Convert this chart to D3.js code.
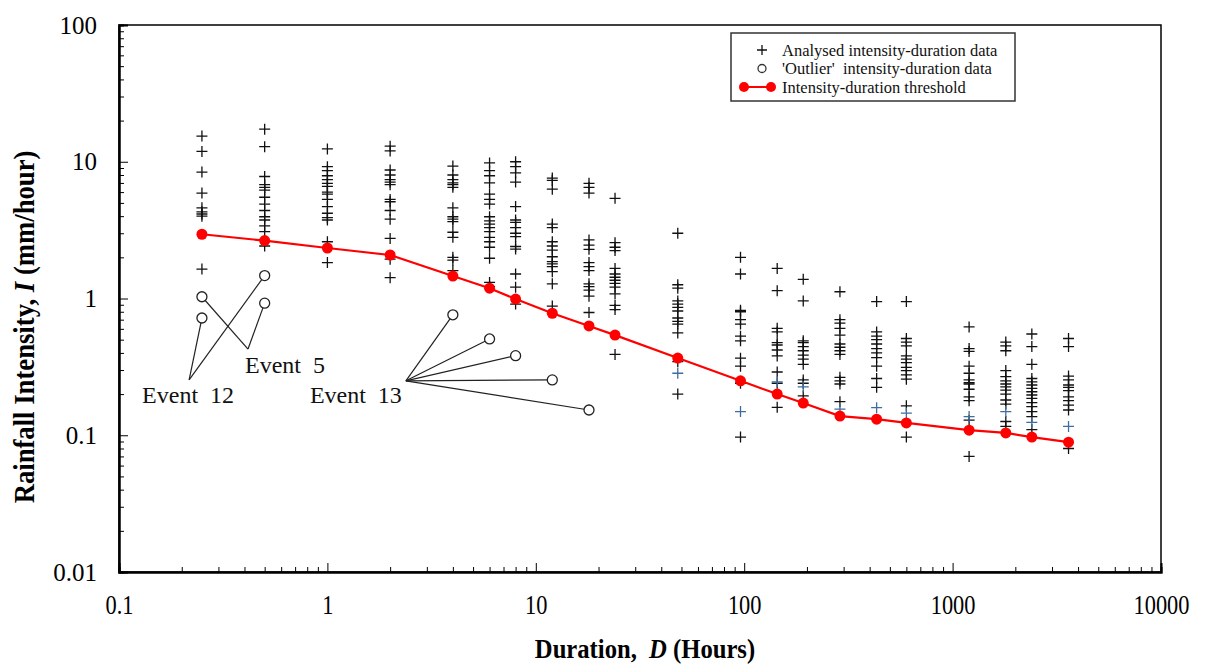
<!DOCTYPE html>
<html>
<head>
<meta charset="utf-8">
<script src="https://cdn.jsdelivr.net/npm/d3@7.9.0/dist/d3.min.js"></script>
<style>
  body { margin: 0; background: #fff; }
  svg { display: block; font-family: "Liberation Serif", "Times New Roman", serif; }
</style>
</head>
<body>
<svg id="chart" width="1206" height="666"></svg>
<script>
// durations (hours) where events were analysed
const durations = [0.25, 0.5, 1, 2, 4, 6, 8, 12, 18, 24, 48, 96, 144, 192, 288, 432, 600, 1200, 1800, 2400, 3600];

// analysed intensity-duration data (mm/hour), one list per duration
const analysed = [
  [15.4, 11.9, 8.4, 5.9, 4.6, 4.3, 4.15, 4.0, 1.64],
  [17.3, 12.9, 7.8, 6.8, 6.5, 6.2, 5.5, 4.9, 4.4, 3.96, 3.75, 3.4, 3.08, 2.42],
  [12.4, 9.2, 8.6, 7.9, 7.4, 6.95, 6.6, 6.0, 5.8, 5.3, 4.7, 4.2, 3.9, 3.75, 2.6, 1.83],
  [13.0, 12.0, 8.7, 8.0, 7.4, 7.1, 6.8, 5.3, 5.1, 4.4, 3.8, 2.75, 1.94, 1.42],
  [9.3, 8.0, 7.4, 7.0, 6.8, 6.5, 4.6, 3.96, 3.8, 3.65, 3.05, 2.8, 2.0, 1.91, 1.6],
  [9.8, 8.6, 7.9, 7.0, 5.8, 5.3, 4.9, 3.96, 3.7, 3.5, 3.3, 3.08, 2.8, 2.6, 2.37, 1.97, 1.31, 1.22],
  [10.0, 9.2, 8.3, 7.1, 4.7, 3.75, 3.6, 3.3, 3.0, 2.83, 2.4, 2.3, 1.51, 1.21, 0.91],
  [7.6, 7.3, 6.3, 3.5, 3.3, 2.6, 2.42, 2.26, 2.02, 1.86, 1.79, 1.71, 1.57, 1.28, 0.88],
  [6.95, 6.5, 5.9, 2.68, 2.46, 2.29, 1.83, 1.71, 1.6, 1.28, 1.22, 1.15, 1.04, 0.79],
  [5.4, 2.56, 2.37, 2.24, 1.66, 1.51, 1.43, 1.36, 1.29, 1.21, 1.08, 0.89, 0.83, 0.39],
  [3.0, 1.26, 1.19, 0.96, 0.91, 0.86, 0.81, 0.72, 0.68, 0.65, 0.56, 0.345, 0.2],
  [2.0, 1.51, 0.82, 0.8, 0.7, 0.65, 0.53, 0.49, 0.366, 0.32, 0.24, 0.097],
  [1.66, 1.14, 0.605, 0.57, 0.475, 0.457, 0.42, 0.38, 0.29, 0.24, 0.16],
  [1.38, 0.96, 0.49, 0.475, 0.445, 0.415, 0.386, 0.36, 0.33, 0.254, 0.24, 0.194],
  [1.12, 0.7, 0.66, 0.605, 0.54, 0.465, 0.44, 0.415, 0.39, 0.265, 0.25, 0.237, 0.176],
  [0.95, 0.57, 0.53, 0.5, 0.465, 0.43, 0.4, 0.37, 0.32, 0.26, 0.224],
  [0.95, 0.51, 0.48, 0.45, 0.38, 0.36, 0.34, 0.314, 0.297, 0.276, 0.257, 0.164, 0.097],
  [0.62, 0.43, 0.41, 0.32, 0.284, 0.254, 0.242, 0.237, 0.217, 0.191, 0.179, 0.129, 0.07],
  [0.48, 0.45, 0.415, 0.297, 0.268, 0.25, 0.237, 0.226, 0.214, 0.2, 0.181, 0.169, 0.126, 0.116],
  [0.55, 0.445, 0.33, 0.26, 0.246, 0.233, 0.22, 0.208, 0.197, 0.186, 0.173, 0.162, 0.149, 0.137, 0.11],
  [0.51, 0.445, 0.271, 0.254, 0.233, 0.224, 0.212, 0.191, 0.179, 0.166, 0.153, 0.08]
];

// the few crosses drawn in blue (duration, intensity)
const blueDurations = [48, 96, 144, 192, 288, 432, 600, 1200, 1800, 2400, 3600];
const blueIntensity = [0.284, 0.149, 0.246, 0.226, 0.155, 0.159, 0.145, 0.137, 0.149, 0.124, 0.116];

// intensity-duration threshold
const threshold = [2.95, 2.65, 2.34, 2.08, 1.46, 1.19, 0.99, 0.78, 0.63, 0.54, 0.367, 0.25, 0.2, 0.172, 0.138, 0.131, 0.123, 0.109, 0.104, 0.097, 0.089];

// 'outlier' points
const outlierDurations = [0.25, 0.25, 0.5, 0.5, 4, 6, 8, 12, 18];
const outlierIntensity = [1.03, 0.72, 1.47, 0.925, 0.76, 0.506, 0.382, 0.254, 0.153];

// event call-outs: label, pointer vertex (data coords), outlier indices
const eventLabels = ['Event  12', 'Event  5', 'Event  13'];
const eventVertex = [[0.217, 0.254], [0.416, 0.427], [2.38, 0.25]];
const eventTargets = [[1, 2], [0, 3], [4, 5, 6, 7, 8]];

const xTicks = [0.1, 1, 10, 100, 1000, 10000];
const yTicks = [0.01, 0.1, 1, 10, 100];

const svg = d3.select('#chart');
const plotL = 119, plotR = 1161, plotT = 25, plotB = 572;

const x = d3.scaleLog().domain([0.1, 10000]).range([plotL, plotR]);
const y = d3.scaleLog().domain([0.01, 100]).range([plotB, plotT]);

// minor ticks 2..9 inside each decade
function minors(lo, hi) {
  const out = [];
  for (let p = lo; p < hi; p *= 10) {
    for (let k = 2; k <= 9; k++) out.push(+(p * k).toPrecision(3));
  }
  return out;
}

// frame
svg.append('rect')
  .attr('x', plotL).attr('y', plotT)
  .attr('width', plotR - plotL).attr('height', plotB - plotT)
  .attr('fill', 'none').attr('stroke', '#000').attr('stroke-width', 1.5);

// x axis
const xAxis = svg.append('g').attr('transform', `translate(0,${plotB})`);
xAxis.call(d3.axisBottom(x).tickValues(xTicks).tickSize(-9).tickPadding(22)
  .tickFormat(d3.format('~g')));
xAxis.append('g').call(d3.axisBottom(x).tickValues(minors(0.1, 10000)).tickSize(-5).tickFormat(''));

// y axis
const yAxis = svg.append('g').attr('transform', `translate(${plotL},0)`);
yAxis.call(d3.axisLeft(y).tickValues(yTicks).tickSize(-9).tickPadding(22)
  .tickFormat(d3.format('~g')));
yAxis.append('g').call(d3.axisLeft(y).tickValues(minors(0.01, 100)).tickSize(-5).tickFormat(''));

svg.selectAll('.domain').attr('stroke', '#000').attr('stroke-width', 2);
svg.selectAll('.tick line').attr('stroke', '#000').attr('stroke-width', 1);
xAxis.selectAll('text')
  .attr('font-family', 'Liberation Serif').attr('font-size', 28)
  .attr('fill', '#000').attr('transform', 'scale(0.8,1)');
yAxis.selectAll('text')
  .attr('font-family', 'Liberation Serif').attr('font-size', 25).attr('fill', '#000');

// axis titles (narrow, like the original)
svg.append('text')
  .attr('transform', `translate(645,658) scale(0.88,1)`)
  .attr('text-anchor', 'middle')
  .attr('font-size', 28).attr('font-weight', 'bold')
  .html('Duration,&#160; <tspan font-style="italic">D</tspan> (Hours)');

svg.append('text')
  .attr('transform', `translate(34,327) rotate(-90) scale(0.92,1)`)
  .attr('text-anchor', 'middle')
  .attr('font-size', 29).attr('font-weight', 'bold')
  .html('Rainfall Intensity, <tspan font-style="italic">I</tspan> (mm/hour)');

const crossPath = 'M-5.5,0H5.5M0,-5.5V5.5';

// analysed crosses
const points = [];
durations.forEach((d, i) => analysed[i].forEach(v => points.push([d, v])));

svg.append('g').selectAll('path')
  .data(points).join('path')
  .attr('d', crossPath)
  .attr('transform', p => `translate(${x(p[0])},${y(p[1])})`)
  .attr('stroke', '#111').attr('stroke-width', 1.3).attr('fill', 'none');

svg.append('g').selectAll('path')
  .data(blueDurations).join('path')
  .attr('d', crossPath)
  .attr('transform', (d, i) => `translate(${x(d)},${y(blueIntensity[i])})`)
  .attr('stroke', '#3f6d9f').attr('stroke-width', 1.3).attr('fill', 'none');

// threshold line
const line = d3.line().x((d, i) => x(d)).y((d, i) => y(threshold[i]));
svg.append('path')
  .attr('d', line(durations))
  .attr('fill', 'none').attr('stroke', '#ff0000').attr('stroke-width', 2.2);

svg.append('g').selectAll('circle')
  .data(durations).join('circle')
  .attr('cx', d => x(d)).attr('cy', (d, i) => y(threshold[i]))
  .attr('r', 5.5).attr('fill', '#ff0000');

// event pointers
const pointers = svg.append('g');
eventLabels.forEach((label, e) => {
  const vx = x(eventVertex[e][0]), vy = y(eventVertex[e][1]);
  eventTargets[e].forEach(k => {
    pointers.append('line')
      .attr('x1', vx).attr('y1', vy)
      .attr('x2', x(outlierDurations[k])).attr('y2', y(outlierIntensity[k]))
      .attr('stroke', '#222').attr('stroke-width', 1.2);
  });
});

// outliers (open circles)
svg.append('g').selectAll('circle')
  .data(outlierDurations).join('circle')
  .attr('cx', d => x(d)).attr('cy', (d, i) => y(outlierIntensity[i]))
  .attr('r', 5).attr('fill', '#fff').attr('stroke', '#222').attr('stroke-width', 1.3);

// event labels, placed off the pointer vertex
const labelOffset = [[-47, 23, 'start'], [-3, 24, 'start'], [-4, 22, 'end']];
eventLabels.forEach((label, e) => {
  svg.append('text')
    .attr('x', x(eventVertex[e][0]) + labelOffset[e][0])
    .attr('y', y(eventVertex[e][1]) + labelOffset[e][1])
    .attr('text-anchor', labelOffset[e][2])
    .attr('font-size', 24).attr('fill', '#111')
    .style('white-space', 'pre')
    .text(label);
});

// legend
const legend = svg.append('g').attr('transform', 'translate(731,33)');
legend.append('rect')
  .attr('width', 284).attr('height', 68)
  .attr('fill', '#fff').attr('stroke', '#333').attr('stroke-width', 1.5);

const legendItems = ['Analysed intensity-duration data', "'Outlier'  intensity-duration data", 'Intensity-duration threshold'];
const legendRows = legend.selectAll('g').data(legendItems).join('g')
  .attr('transform', (d, i) => `translate(0,${17 + i * 18.5})`);

legendRows.append('text')
  .attr('x', 51).attr('dy', '0.35em')
  .attr('font-size', 16.5).attr('fill', '#111')
  .style('white-space', 'pre')
  .text(d => d);

legendRows.filter((d, i) => i === 0).append('path')
  .attr('d', 'M-5,0H5M0,-5V5').attr('transform', 'translate(31,0)')
  .attr('stroke', '#111').attr('stroke-width', 1.3);
legendRows.filter((d, i) => i === 1).append('circle')
  .attr('cx', 31).attr('r', 4).attr('fill', '#fff')
  .attr('stroke', '#333').attr('stroke-width', 1.3);
const redRow = legendRows.filter((d, i) => i === 2);
redRow.append('line').attr('x1', 13).attr('x2', 40)
  .attr('stroke', '#ff0000').attr('stroke-width', 2);
redRow.selectAll('circle').data([13, 40]).join('circle')
  .attr('cx', d => d).attr('r', 5).attr('fill', '#ff0000');
</script>
</body>
</html>
